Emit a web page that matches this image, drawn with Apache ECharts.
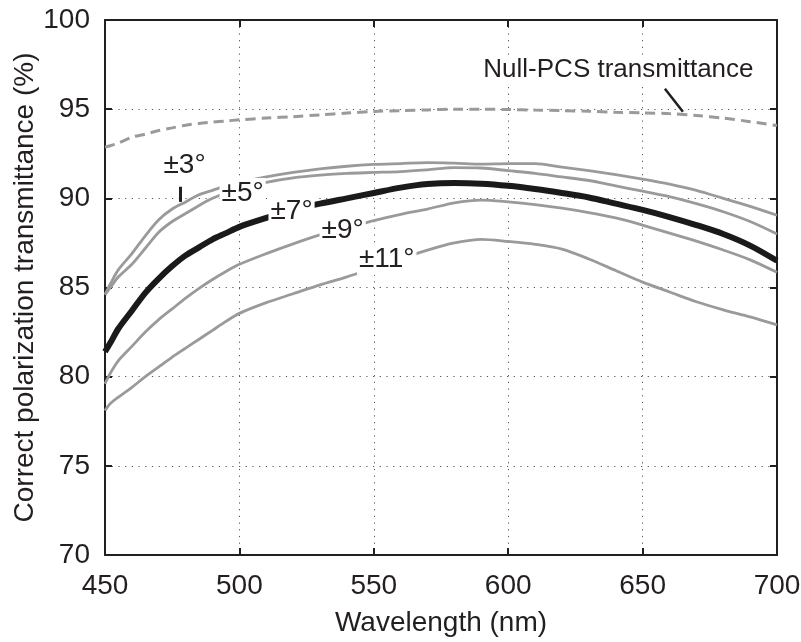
<!DOCTYPE html>
<html><head><meta charset="utf-8">
<script src="https://cdn.jsdelivr.net/npm/echarts@6/dist/echarts.min.js"></script>
<style>html,body{margin:0;padding:0;background:#fff}#c{width:801px;height:642px}</style>
</head><body><div id="c"></div>
<script>
const wavelengths = [450,452,455,460,465,470,475,480,485,490,495,500,510,520,530,540,550,560,570,580,590,600,610,620,630,640,650,660,670,680,690,700];
const nullPCS = [92.87,92.95,93.1,93.43,93.6,93.8,93.95,94.1,94.2,94.27,94.34,94.4,94.5,94.58,94.68,94.78,94.87,94.92,94.96,95.0,95.0,94.98,94.95,94.92,94.88,94.83,94.79,94.75,94.65,94.5,94.3,94.08];
const deg3 = [84.6,85.2,86.0,86.9,87.9,88.8,89.4,89.8,90.2,90.45,90.7,90.9,91.2,91.45,91.65,91.8,91.9,91.95,92.0,91.97,91.92,91.95,91.95,91.75,91.55,91.33,91.08,90.8,90.45,90.0,89.55,89.05];
const deg5 = [84.6,85.0,85.6,86.3,87.2,88.1,88.7,89.15,89.6,90.0,90.3,90.55,90.9,91.15,91.3,91.4,91.45,91.5,91.6,91.72,91.7,91.55,91.4,91.2,91.0,90.7,90.4,90.1,89.7,89.25,88.7,88.0];
const deg7 = [81.4,81.9,82.7,83.7,84.7,85.5,86.2,86.8,87.25,87.7,88.05,88.4,88.9,89.35,89.7,90.0,90.3,90.6,90.8,90.86,90.82,90.7,90.52,90.3,90.05,89.7,89.35,88.95,88.5,88.0,87.35,86.5];
const deg9 = [79.6,80.2,80.9,81.7,82.5,83.2,83.8,84.4,84.95,85.45,85.9,86.3,86.9,87.45,87.95,88.35,88.75,89.1,89.4,89.75,89.9,89.8,89.65,89.45,89.2,88.9,88.5,88.05,87.6,87.1,86.55,85.85];
const deg11 = [78.1,78.5,78.85,79.4,80.0,80.55,81.1,81.6,82.1,82.6,83.1,83.55,84.15,84.65,85.15,85.6,86.1,86.6,87.1,87.5,87.7,87.58,87.42,87.15,86.6,85.95,85.3,84.75,84.2,83.75,83.35,82.9];
const xTicks = [450,500,550,600,650,700];
const yTicks = [70,75,80,85,90,95,100];
const curveLabels = ['±3°','±5°','±7°','±9°','±11°'];
const nullLabel = 'Null-PCS transmittance';
const xTitle = 'Wavelength (nm)';
const yTitle = 'Correct polarization transmittance (%)';

const FONT = '"Liberation Sans Narrow","Arial Narrow","Liberation Sans",Arial,sans-serif';
const INK = '#231f20';
const GRAYLINE = '#9a9a9a';
const pairs = arr => wavelengths.map((w,i)=>[w,arr[i]]);

function mp(coord, text, size){
  return {coord:coord, symbol:'circle', symbolSize:0,
    label:{show:true, formatter:text, position:'inside', color:INK, fontFamily:FONT,
      fontSize:size, backgroundColor:'#fff', padding:[1,2,1,2], lineHeight:size+1}};
}

const chart = echarts.init(document.getElementById('c'), null, {renderer:'canvas'});
const axisCommon = {
  type:'value',
  axisLine:{show:true, onZero:false, lineStyle:{color:INK, width:2}},
  axisTick:{show:true, inside:true, length:7, lineStyle:{color:INK, width:2}},
};
chart.setOption({
  animation:false,
  backgroundColor:'#fff',
  grid:{left:105, right:24, top:20, bottom:87, containLabel:false, outerBoundsMode:'none'},
  xAxis:[
    Object.assign({}, axisCommon, {min:450, max:700, interval:50, position:'bottom',
      name:xTitle, nameLocation:'middle', nameGap:54,
      nameTextStyle:{color:INK, fontFamily:FONT, fontSize:28},
      axisLabel:{color:INK, fontFamily:FONT, fontSize:28, margin:17},
      splitLine:{show:true, lineStyle:{color:'#555', width:1, type:[1.2,5.5]}}}),
    Object.assign({}, axisCommon, {min:450, max:700, interval:50, position:'top',
      axisLabel:{show:false}, splitLine:{show:false}})
  ],
  yAxis:[
    Object.assign({}, axisCommon, {min:70, max:100, interval:5, position:'left',
      name:yTitle, nameLocation:'middle', nameGap:66, nameRotate:90, nameMoveOverlap:false,
      nameTextStyle:{color:INK, fontFamily:FONT, fontSize:28},
      axisLabel:{color:INK, fontFamily:FONT, fontSize:28, margin:15},
      splitLine:{show:true, lineStyle:{color:'#555', width:1, type:[1.2,5.5]}}}),
    Object.assign({}, axisCommon, {min:70, max:100, interval:5, position:'right',
      axisLabel:{show:false}, splitLine:{show:false}})
  ],
  series:[
    {type:'line', data:pairs(nullPCS), smooth:0.3, showSymbol:false, z:3,
      lineStyle:{color:GRAYLINE, width:3, type:[10,6]},
      markPoint:{data:[mp([641,97.2], nullLabel, 26)]},
      markLine:{silent:true, symbol:['none','none'], label:{show:false},
        lineStyle:{color:INK, width:2.5, type:'solid'},
        data:[[{coord:[658.3,96.15]},{coord:[665,94.85]}]]}},
    {type:'line', data:pairs(deg3), smooth:0.3, showSymbol:false, z:3,
      lineStyle:{color:GRAYLINE, width:2.8},
      markPoint:{data:[mp([479.6,91.85], curveLabels[0], 28)]},
      markLine:{silent:true, symbol:['none','none'], label:{show:false},
        lineStyle:{color:INK, width:3, type:'solid'},
        data:[[{coord:[478.1,90.65]},{coord:[478.1,89.8]}]]}},
    {type:'line', data:pairs(deg5), smooth:0.3, showSymbol:false, z:3,
      lineStyle:{color:GRAYLINE, width:2.8},
      markPoint:{data:[mp([501.2,90.27], curveLabels[1], 28)]}},
    {type:'line', data:pairs(deg7), smooth:0.3, showSymbol:false, z:4,
      lineStyle:{color:'#1a1a1a', width:6},
      markPoint:{data:[mp([519.4,89.27], curveLabels[2], 28)]}},
    {type:'line', data:pairs(deg9), smooth:0.3, showSymbol:false, z:3,
      lineStyle:{color:GRAYLINE, width:2.8},
      markPoint:{data:[mp([538.4,88.2], curveLabels[3], 28)]}},
    {type:'line', data:pairs(deg11), smooth:0.3, showSymbol:false, z:3,
      lineStyle:{color:GRAYLINE, width:2.8},
      markPoint:{data:[mp([554.8,86.58], curveLabels[4], 28)]}}
  ]
});
</script></body></html>
